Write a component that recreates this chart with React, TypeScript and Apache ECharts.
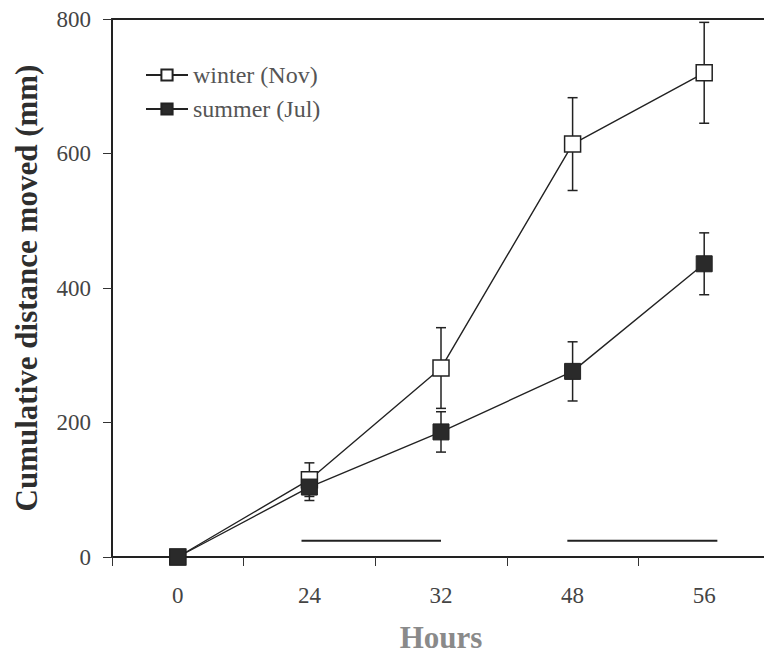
import React, { useEffect, useRef } from "react";
import * as echarts from "echarts";

const hours = ["0", "24", "32", "48", "56"];
const winterMean = [0, 115, 281, 614, 720];
const winterErr = [0, 25, 60, 69, 75];
const summerMean = [0, 104, 186, 276, 436];
const summerErr = [0, 20, 30, 44, 46];
const yTicks = { min: 0, max: 800, interval: 200 };
// horizontal bars near the baseline (in category-index units), at value ~24
const nightBars = [
  [0.94, 2.0],
  [2.96, 4.1],
];
const nightLevel = 24;

const FONT = "'Liberation Serif', 'Times New Roman', serif";

function errData(mean: number[], err: number[]) {
  return mean.map((m, i) => [i, m - err[i], m + err[i]]);
}

export default function App() {
  const ref = useRef<HTMLDivElement>(null);
  useEffect(() => {
    if (!ref.current) return;
    const chart = echarts.init(ref.current, null, { renderer: "svg" });
    const errRender = (params: any, api: any) => {
      const x = api.value(0);
      const lo = api.coord([x, api.value(1)]);
      const hi = api.coord([x, api.value(2)]);
      const w = 5;
      const style = { stroke: "#222", lineWidth: 1.5 };
      return {
        type: "group",
        children: [
          { type: "line", shape: { x1: lo[0], y1: lo[1], x2: hi[0], y2: hi[1] }, style },
          { type: "line", shape: { x1: lo[0] - w, y1: lo[1], x2: lo[0] + w, y2: lo[1] }, style },
          { type: "line", shape: { x1: hi[0] - w, y1: hi[1], x2: hi[0] + w, y2: hi[1] }, style },
        ],
      };
    };
    chart.setOption({
      animation: false,
      backgroundColor: "#fff",
      grid: {
        left: 112,
        right: -6,
        top: 19,
        bottom: 99,
        show: false,
        containLabel: false,
        outerBoundsMode: "none",
      },
      legend: {
        left: 140,
        top: 58,
        orient: "vertical",
        itemWidth: 42,
        itemHeight: 14,
        itemGap: 10,
        textStyle: { fontFamily: FONT, fontSize: 24, color: "#555" },
        data: ["winter (Nov)", "summer (Jul)"],
      },
      xAxis: [
        {
          type: "category",
          data: hours,
          boundaryGap: true,
          axisLine: { onZero: false, lineStyle: { color: "#222", width: 2 } },
          axisTick: { show: true, length: 9, lineStyle: { color: "#333", width: 1 } },
          axisLabel: { fontFamily: FONT, fontSize: 23, color: "#444", margin: 27 },
          name: "Hours",
          nameLocation: "middle",
          nameGap: 65,
          nameTextStyle: {
            fontFamily: FONT,
            fontSize: 31,
            lineHeight: 31,
            fontWeight: "bold",
            color: "#8a8a8a",
          },
        },
        {
          type: "value",
          position: "top",
          min: -0.5,
          max: 4.5,
          axisLine: { show: true, onZero: false, lineStyle: { color: "#222", width: 2 } },
          axisTick: { show: false },
          axisLabel: { show: false },
          splitLine: { show: false },
        },
      ],
      yAxis: {
        type: "value",
        min: yTicks.min,
        max: yTicks.max,
        interval: yTicks.interval,
        axisLine: { show: true, onZero: false, lineStyle: { color: "#222", width: 2 } },
        axisTick: { show: true, length: 9, lineStyle: { color: "#333", width: 1 } },
        axisLabel: { fontFamily: FONT, fontSize: 23, color: "#444", margin: 21 },
        splitLine: { show: false },
        name: "Cumulative distance moved (mm)",
        nameLocation: "middle",
        nameGap: 70,
        nameTextStyle: { fontFamily: FONT, fontSize: 31, fontWeight: "bold", color: "#2e2e2e" },
      },
      series: [
        {
          type: "custom",
          name: "winterErr",
          xAxisIndex: 0,
          renderItem: errRender,
          data: errData(winterMean, winterErr),
          encode: { x: 0, y: [1, 2] },
          z: 1,
        },
        {
          type: "custom",
          name: "summerErr",
          xAxisIndex: 0,
          renderItem: errRender,
          data: errData(summerMean, summerErr),
          encode: { x: 0, y: [1, 2] },
          z: 1,
        },
        {
          type: "line",
          name: "winter (Nov)",
          data: winterMean,
          symbol: "rect",
          symbolSize: 16,
          itemStyle: { color: "#fff", borderColor: "#222", borderWidth: 1.5 },
          lineStyle: { color: "#222", width: 1.4 },
          z: 3,
        },
        {
          type: "line",
          name: "summer (Jul)",
          data: summerMean,
          symbol: "rect",
          symbolSize: 16,
          itemStyle: { color: "#2a2a2a", borderColor: "#222", borderWidth: 1 },
          lineStyle: { color: "#222", width: 1.4 },
          z: 4,
        },
        ...nightBars.map((b) => ({
          type: "line",
          xAxisIndex: 1,
          data: [
            [b[0], nightLevel],
            [b[1], nightLevel],
          ],
          symbol: "none",
          lineStyle: { color: "#222", width: 2 },
          silent: true,
          z: 2,
        })),
      ],
    });
    return () => chart.dispose();
  }, []);
  return <div ref={ref} style={{ width: 764, height: 656, position: "absolute", left: 0, top: 0 }} />;
}
